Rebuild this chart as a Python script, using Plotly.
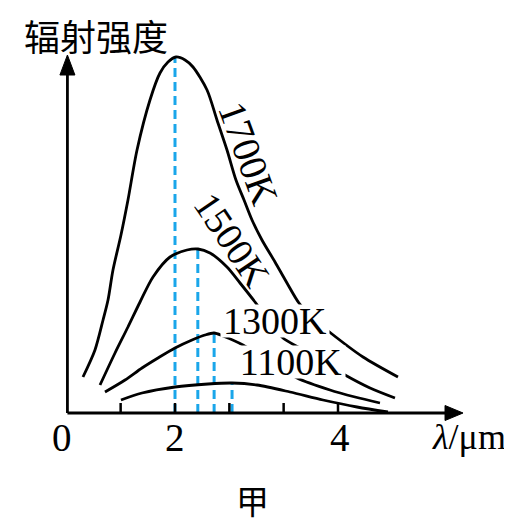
import plotly.graph_objects as go

# ---------------- data (wavelength in µm, intensity in arbitrary units) ----------------
temperatures = ["1700K", "1500K", "1300K", "1100K"]

wl_1700 = [0.871, 1.018, 1.117, 1.178, 1.239, 1.337, 1.423, 1.534, 1.693, 1.816, 1.914, 2.012,
           2.123, 2.221, 2.393, 2.515, 2.638, 2.748, 2.847, 2.945, 3.067, 3.227, 3.374, 3.521,
           3.718, 3.926, 4.307, 4.736]
in_1700 = [3.6, 6.3, 9.3, 11.3, 14.3, 17.8, 21.3, 26.3, 31.3, 34.0, 35.1, 35.6,
           35.3, 34.6, 32.3, 29.3, 26.3, 23.3, 21.3, 19.3, 17.3, 15.1, 13.0, 11.0,
           9.3, 7.9, 5.6, 3.6]

wl_1500 = [1.080, 1.264, 1.423, 1.571, 1.730, 1.939, 2.147, 2.282, 2.429, 2.638, 2.798, 2.982,
           3.166, 3.325, 3.509, 3.779, 4.086, 4.393, 4.699]
in_1500 = [2.8, 6.0, 8.6, 11.1, 13.6, 15.6, 16.3, 16.4, 16.0, 14.6, 13.0, 11.1,
           9.1, 7.5, 6.6, 5.3, 3.8, 2.5, 1.5]

wl_1300 = [1.141, 1.387, 1.595, 1.791, 2.000, 2.209, 2.368, 2.479, 2.589, 2.834, 3.166, 3.497,
           3.902, 4.209, 4.515]
in_1300 = [2.1, 3.3, 4.5, 5.5, 6.5, 7.3, 7.8, 8.0, 7.7, 6.8, 5.1, 3.5,
           2.3, 1.6, 1.0]

wl_1100 = [1.337, 1.595, 2.000, 2.405, 2.699, 3.006, 3.411, 3.816, 4.233, 4.613]
in_1100 = [1.3, 2.0, 2.6, 2.9, 3.0, 2.8, 2.1, 1.3, 0.6, 0.1]

peak_wavelength = [2.00, 2.28, 2.48, 2.70]
peak_intensity = [35.6, 16.4, 8.0, 3.0]

tick_positions = [1.333, 2.0, 2.667, 3.333, 4.0]
tick_label_values = [2, 4]
origin_label = "0"
x_title = "<i>λ</i>/μm"
y_title = "辐射强度"
caption = "甲"

# ---------------- layout constants ----------------
W, H = 512, 526
OFF = 8                      # page body margin of the html page
PX_PER_X = 81.5              # pixels per µm
PX_PER_Y = 10.0              # pixels per intensity unit
X_AT_0 = 2 + (OFF - 175) / PX_PER_X
Y_AT_0 = (413 - OFF) / PX_PER_Y
X_RANGE = [X_AT_0, X_AT_0 + W / PX_PER_X]
Y_RANGE = [Y_AT_0 - H / PX_PER_Y, Y_AT_0]
px_x, px_y = PX_PER_X, PX_PER_Y
X0 = 0.68          # axis origin
X_END = 5.534      # x arrow tip
Y_END = 35.8       # y arrow tip
AX_W = 2.8
CURVE_W = 2.8
BLUE = "#1aa6ea"
SERIF = "Liberation Serif, Times New Roman, serif"
CJK = "Noto Sans CJK SC, sans-serif"

fig = go.Figure()

# dashed peak markers
for xp, yp in zip(peak_wavelength, peak_intensity):
    fig.add_trace(go.Scatter(x=[xp, xp], y=[0, yp], mode="lines",
                             line=dict(color=BLUE, width=3, dash="9px,5px"),
                             hoverinfo="skip"))

# curves
for wl, it in [(wl_1700, in_1700), (wl_1500, in_1500), (wl_1300, in_1300), (wl_1100, in_1100)]:
    fig.add_trace(go.Scatter(x=wl, y=it, mode="lines",
                             line=dict(color="black", width=CURVE_W, shape="spline", smoothing=0.8),
                             hoverinfo="skip"))

shapes = []
# axes
head_len = 18
head_half = 7.5
shapes.append(dict(type="line", x0=X0, y0=0, x1=X_END - head_len / px_x * 0.8, y1=0,
                   line=dict(color="black", width=AX_W), layer="above"))
shapes.append(dict(type="path",
                   path=f"M {X_END},0 L {X_END - head_len / px_x},{head_half / px_y} "
                        f"L {X_END - head_len / px_x},{-head_half / px_y} Z",
                   fillcolor="black", line=dict(color="black", width=1), layer="above"))
shapes.append(dict(type="line", x0=X0, y0=0, x1=X0, y1=Y_END - head_len / px_y * 0.8,
                   line=dict(color="black", width=AX_W), layer="above"))
shapes.append(dict(type="path",
                   path=f"M {X0},{Y_END} L {X0 - head_half / px_x},{Y_END - 20 / px_y} "
                        f"L {X0 + head_half / px_x},{Y_END - 20 / px_y} Z",
                   fillcolor="black", line=dict(color="black", width=1), layer="above"))
# tick marks
for t in tick_positions:
    shapes.append(dict(type="line", x0=t, y0=0, x1=t, y1=10 / px_y,
                       line=dict(color="black", width=2.5), layer="above"))

annotations = []
lab_y = -24 / px_y
annotations.append(dict(x=0.613, y=lab_y, text=origin_label, showarrow=False,
                        font=dict(family=SERIF, size=39, color="black")))
for v in tick_label_values:
    annotations.append(dict(x=v + (0.02 if v == 4 else 0), y=lab_y, text=str(v), showarrow=False,
                            font=dict(family=SERIF, size=39, color="black")))
annotations.append(dict(x=2 + (469 - 175) / px_x, y=lab_y, text=x_title, showarrow=False,
                        font=dict(family=SERIF, size=36, color="black")))
annotations.append(dict(x=1.031, y=37.8, text=y_title, showarrow=False,
                        font=dict(family=CJK, size=36, color="black")))
annotations.append(dict(x=2.945, y=-8.7, text=caption, showarrow=False,
                        font=dict(family=CJK, size=33, color="black")))

# temperature labels
annotations.append(dict(x=2.908, y=26.0, text=temperatures[0], showarrow=False, textangle=70,
                        font=dict(family=SERIF, size=39, color="black")))
annotations.append(dict(x=2.699, y=17.3, text=temperatures[1], showarrow=False, textangle=56,
                        font=dict(family=SERIF, size=38, color="black")))
annotations.append(dict(x=3.227, y=9.2, text=temperatures[2], showarrow=False,
                        bgcolor="white", borderpad=0, height=32, width=108,
                        font=dict(family=SERIF, size=38, color="black")))
annotations.append(dict(x=3.423, y=5.1, text=temperatures[3], showarrow=False,
                        bgcolor="white", borderpad=0, height=32, width=108,
                        font=dict(family=SERIF, size=38, color="black")))

fig.update_layout(
    width=W, height=H, margin=dict(l=0, r=0, t=0, b=0),
    paper_bgcolor="white", plot_bgcolor="white", showlegend=False,
    xaxis=dict(range=X_RANGE, visible=False, fixedrange=True),
    yaxis=dict(range=Y_RANGE, visible=False, fixedrange=True),
    shapes=shapes, annotations=annotations,
)

fig.write_html("out.html")
